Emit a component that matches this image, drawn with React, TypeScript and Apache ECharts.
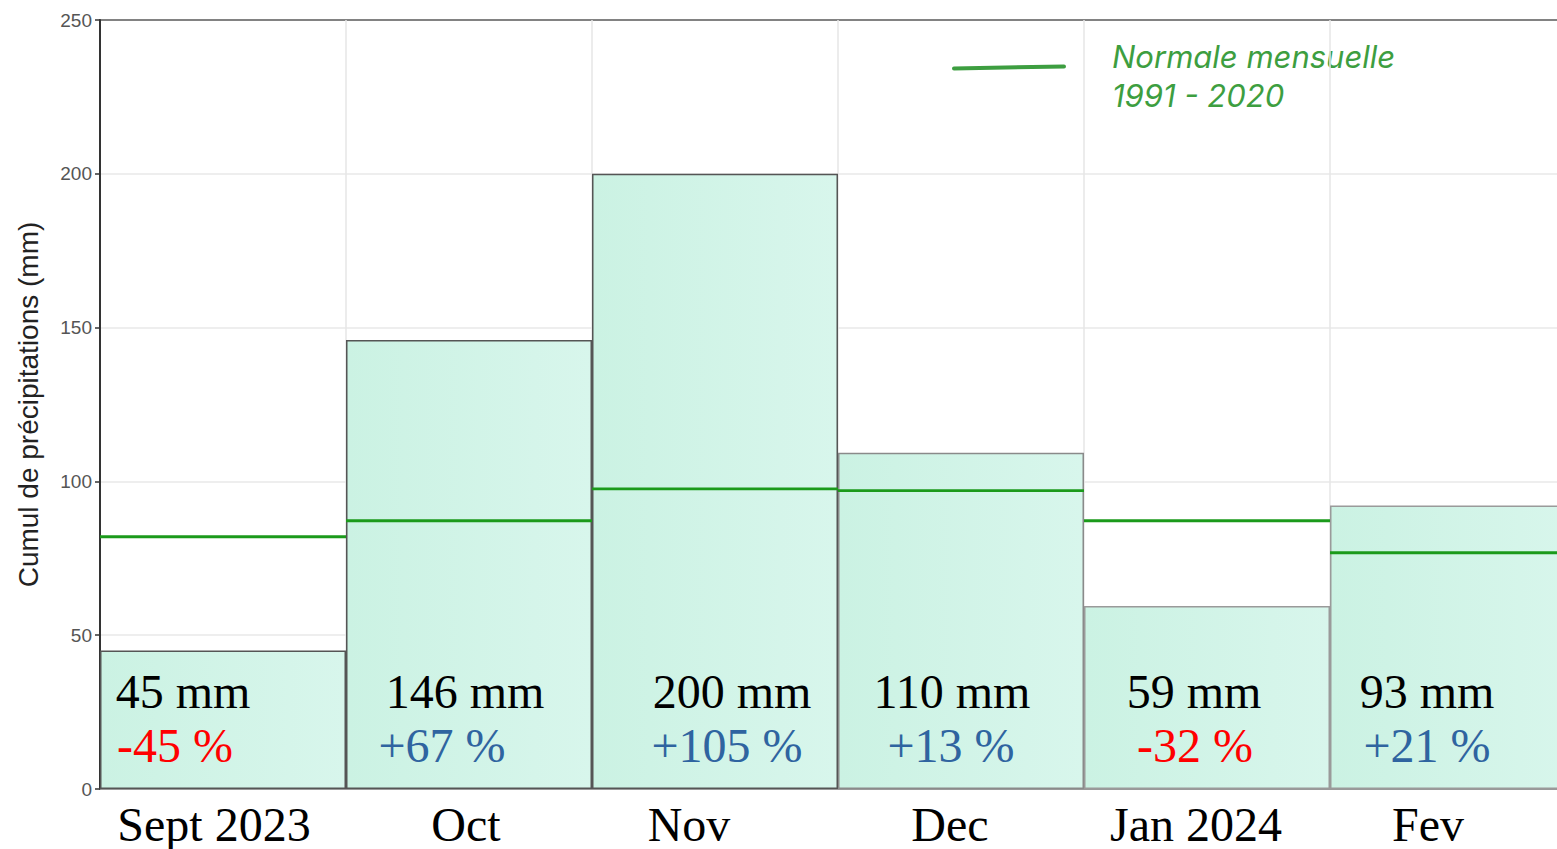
import React, { useEffect, useRef } from "react";
import * as echarts from "echarts";

const months = ["Sept 2023", "Oct", "Nov", "Dec", "Jan 2024", "Fev"];
const totals = [45, 146, 200, 109.3, 59.5, 92.2];
const totalLabels = ["45 mm", "146 mm", "200 mm", "110 mm", "59 mm", "93 mm"];
const normals = [82, 87.2, 97.6, 97, 87.2, 76.8];
const anomalies = ["-45 %", "+67 %", "+105 %", "+13 %", "-32 %", "+21 %"];
const yTicks = [0, 50, 100, 150, 200, 250];
const legendLines = ["Normale mensuelle", "1991 - 2020"];

// presentation tweaks (not data)
const labelShiftMm = [-40, -4, 17, -9, -13, -26];
const labelShiftPct = [-8, -23, -5, -1, 1, 0];
const monthShift = [-9, -3, -26, -11, -11, -25];
const barBorder = ["#555", "#555", "#555", "#8a8a8a", "#9a9a9a", "#9a9a9a"];

const SERIF = "'Liberation Serif', 'Times New Roman', serif";

function padFor(s: number) {
  return s < 0 ? [0, -2 * s, 0, 0] : [0, 0, 0, 2 * s];
}

export default function App() {
  const ref = useRef<HTMLDivElement>(null);
  useEffect(() => {
    if (!ref.current) return;
    const chart = echarts.init(ref.current, undefined, { renderer: "svg" });
    const grad = new echarts.graphic.LinearGradient(0, 0, 1, 0, [
      { offset: 0, color: "#cbf2e3" },
      { offset: 1, color: "#d8f6ec" },
    ]);
    const monthRich: Record<string, any> = {};
    monthShift.forEach((s, i) => {
      monthRich["m" + i] = {
        fontFamily: SERIF,
        fontSize: 48,
        color: "#000",
        padding: padFor(s),
      };
    });
    const legendStyle = {
      fontFamily: "Inter, 'Open Sans', sans-serif",
      fontStyle: "italic",
      fontSize: 31,
      fill: "#3d9e40",
      verticalAlign: "middle",
    };
    chart.setOption({
      animation: false,
      grid: {
        left: 100,
        top: 20,
        width: 1476,
        height: 769,
        show: true,
        borderColor: "#5a5a5a",
        borderWidth: 1.5,
        backgroundColor: "transparent",
      },
      xAxis: {
        type: "category",
        data: months,
        boundaryGap: true,
        axisLine: { show: true, lineStyle: { color: "#a0a0a0", width: 1.5 } },
        axisTick: { show: false },
        splitLine: { show: true, lineStyle: { color: "#e6e6e6", width: 1.5 } },
        axisLabel: {
          margin: 11,
          interval: 0,
          formatter: (v: string, i: number) => `{m${i}|${v}}`,
          rich: monthRich,
        },
      },
      yAxis: {
        type: "value",
        min: yTicks[0],
        max: yTicks[yTicks.length - 1],
        interval: 50,
        name: "Cumul de précipitations (mm)",
        nameLocation: "middle",
        nameGap: 58,
        nameTextStyle: {
          fontFamily: "'Liberation Sans', Arial, sans-serif",
          fontSize: 28,
          color: "#222",
        },
        axisLine: { show: true, lineStyle: { color: "#333", width: 2 } },
        axisTick: { show: true, length: 5, lineStyle: { color: "#333", width: 1.5 } },
        axisLabel: {
          margin: 8,
          fontFamily: "'Liberation Sans', Arial, sans-serif",
          fontSize: 19,
          color: "#555",
        },
        splitLine: {
          show: true,
          showMaxLine: false,
          showMinLine: false,
          lineStyle: { color: "#e8e8e8", width: 1.5 },
        },
      },
      series: [
        {
          type: "bar",
          barWidth: "100%",
          barCategoryGap: 0,
          z: 2,
          data: totals.map((v, i) => ({
            value: v,
            itemStyle: {
              color: grad,
              borderColor: barBorder[i],
              borderWidth: 1.5,
            },
            label: {
              show: true,
              position: "insideBottom",
              distance: 5,
              offset: [labelShiftMm[i], -12],
              formatter: `{a|${totalLabels[i]}}\n{b|${anomalies[i]}}`,
              rich: {
                a: {
                  fontFamily: SERIF,
                  fontSize: 48,
                  lineHeight: 54,
                  color: "#000",
                },
                b: {
                  fontFamily: SERIF,
                  fontSize: 48,
                  lineHeight: 54,
                  color: anomalies[i].startsWith("-") ? "#ff0000" : "#2f64a0",
                  padding: padFor(labelShiftPct[i]),
                },
              },
            },
          })),
        },
        {
          type: "custom",
          name: "Normale mensuelle 1991 - 2020",
          z: 3,
          itemStyle: { color: "#1b9a1b" },
          data: normals.map((v, i) => [i, v]),
          renderItem: (params: any, api: any) => {
            const p = api.coord([api.value(0), api.value(1)]);
            const w = api.size([1, 0])[0];
            return {
              type: "line",
              shape: { x1: p[0] - w / 2, y1: p[1], x2: p[0] + w / 2, y2: p[1] },
              style: { stroke: "#1b9a1b", lineWidth: 2.8 },
            };
          },
        },
      ],
      graphic: [
        {
          type: "line",
          shape: { x1: 954, y1: 68.5, x2: 1064, y2: 66.5 },
          style: { stroke: "#3d9e40", lineWidth: 4, lineCap: "round" },
        },
        {
          type: "text",
          x: 1112,
          y: 56,
          style: { ...legendStyle, text: legendLines[0] },
        },
        {
          type: "text",
          x: 1112,
          y: 95,
          style: { ...legendStyle, text: legendLines[1] },
        },
      ],
    });
    return () => chart.dispose();
  }, []);
  return (
    <div
      style={{
        position: "fixed",
        left: 0,
        top: 0,
        width: "100vw",
        height: "100vh",
        overflow: "hidden",
        background: "#fff",
      }}
    >
      <div ref={ref} style={{ width: 1640, height: 849 }} />
    </div>
  );
}
